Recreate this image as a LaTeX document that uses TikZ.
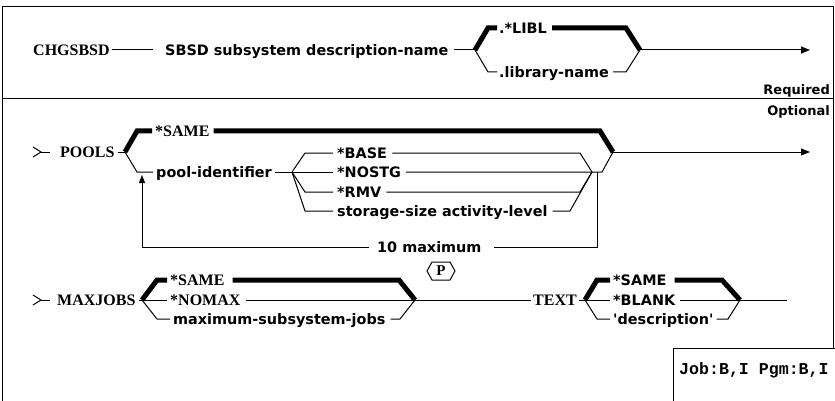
\documentclass[tikz,border=0pt]{standalone}
\usepackage{fontspec}
\setmainfont{Liberation Serif}
\newfontfamily\parmfont{DejaVu Sans}
\newfontfamily\authfont{Liberation Mono}
\usetikzlibrary{arrows.meta, positioning}

\tikzset{
  kw/.style={font=\fontsize{16}{18}\selectfont\bfseries, inner sep=0pt,
    text height=10.5pt, text depth=0pt, anchor=west},
  parm/.style={font=\parmfont\bfseries\fontsize{14.4}{16}\selectfont, inner sep=0pt,
    text height=10.5pt, text depth=0pt, anchor=west},
  rail/.style={line width=1pt},
  mainrail/.style={line width=5pt, line join=miter},
  railend/.style={rail, -{Triangle[length=9pt,width=7pt]}},
}

\begin{document}
\begin{tikzpicture}[x=1pt, y=-1pt]
  \useasboundingbox (0,0) rectangle (835,401);
  % rahmen
  \draw[rail] (2,401) -- (2,7) -- (833,7) -- (833,348);
  \draw[rail] (2,99) -- (833,99);
  \node[parm, anchor=east, font=\parmfont\bfseries\fontsize{13}{15}\selectfont] (req) at (830,89) {Required};
  \node[parm, anchor=east, font=\parmfont\bfseries\fontsize{13}{15}\selectfont] (opt) at (830,110) {Optional};
  % berechtigung
  \draw[rail] (673,401) -- (673,348) -- (835,348);
  \node[anchor=west, inner sep=0pt, font=\authfont\bfseries\fontsize{16.6}{18}\selectfont] (auth) at (679,370) {Job:B,I Pgm:B,I};

  % CHGSBSD
  \node[kw] (cmd) at (33,50) {CHGSBSD};
  \node[parm] (sbsd) at (165,50) {SBSD subsystem description-name};
  \draw[rail] ([xshift=2pt]cmd.east) -- ([xshift=-12pt]sbsd.west);
  \coordinate (r1open) at (475,50);
  \coordinate (r1close) at (640,50);
  \coordinate (r1end) at (810,50);
  \node[parm] (libl) at (499,28) {.*LIBL};
  \node[parm] (libname) at (499,72) {.library-name};
  \draw[rail] ([xshift=5pt]sbsd.east) -- (r1open);
  \draw[mainrail] (r1open) -- (488,28) -- ([xshift=-2pt]libl.west);
  \draw[mainrail] ([xshift=5pt]libl.east) -- (626,28) -- (r1close);
  \draw[rail] (r1open) -- (488,72) -- ([xshift=-2pt]libname.west);
  \draw[rail] ([xshift=4pt]libname.east) -- (626,72) -- (r1close);
  \draw[railend] (r1close) -- (r1end);

  % POOLS
  \draw[rail] (33,147) -- (41,152) -- (33,157);
  \draw[rail] (41,152) -- (50,152);
  \node[kw] (pools) at (60,152) {POOLS};
  \coordinate (r2open) at (125,152);
  \coordinate (r2close) at (613,152);
  \coordinate (r2end) at (810,152);
  \draw[rail] ([xshift=3pt]pools.east) -- (r2open);
  \node[kw] (same2) at (155,131) {*SAME};
  \draw[mainrail] (r2open) -- (137,131) -- ([xshift=-3pt]same2.west);
  \draw[mainrail] ([xshift=4pt]same2.east) -- (600,131) -- (r2close);
  \node[parm] (poolid) at (156,172) {pool-identifier};
  \draw[rail] (r2open) -- (137,172) -- ([xshift=-3pt]poolid.west);
  \coordinate (subopen) at (292,172);
  \coordinate (subclose) at (592,172);
  \draw[rail] ([xshift=3pt]poolid.east) -- (subopen);
  \node[parm] (base) at (337,153) {*BASE};
  \node[parm] (nostg) at (337,172) {*NOSTG};
  \node[parm] (rmv) at (337,192) {*RMV};
  \node[parm] (stor) at (337,211) {storage-size activity-level};
  \draw[rail] (subopen) -- (305,153) -- ([xshift=-4pt]base.west);
  \draw[rail] (subopen) -- ([xshift=-4pt]nostg.west);
  \draw[rail] (subopen) -- (305,192) -- ([xshift=-4pt]rmv.west);
  \draw[rail] (subopen) -- (305,211) -- ([xshift=-4pt]stor.west);
  \draw[rail] ([xshift=5pt]base.east) -- (580,153) -- (subclose);
  \draw[rail] ([xshift=5pt]nostg.east) -- (602,172) -- (r2close);
  \draw[rail] ([xshift=5pt]rmv.east) -- (580,192) -- (subclose);
  \draw[rail] ([xshift=5pt]stor.east) -- (570,211) -- (subclose);
  \draw[railend] (r2close) -- (r2end);
  % wiederholung
  \node[parm] (maxrep) at (377,247) {10 maximum};
  \coordinate (loopr) at (597,172);
  \draw[rail] (loopr) |- ([xshift=12pt]maxrep.east);
  \draw[rail, -{Triangle[length=8pt,width=6pt]}] ([xshift=-8pt]maxrep.west) -| (142,175);

  % MAXJOBS
  \draw[rail] (33,295) -- (41,300) -- (33,305);
  \draw[rail] (41,300) -- (50,300);
  \node[kw] (maxjobs) at (57,300) {MAXJOBS};
  \coordinate (r3open) at (142,300);
  \coordinate (r3close) at (415,300);
  \draw[rail] ([xshift=3pt]maxjobs.east) -- (r3open);
  \node[kw] (same3) at (170,280) {*SAME};
  \node[kw] (nomax) at (170,300) {*NOMAX};
  \node[parm] (maxsub) at (173,319) {maximum-subsystem-jobs};
  \draw[mainrail] (r3open) -- (157,280) -- ([xshift=-3pt]same3.west);
  \draw[mainrail] ([xshift=8pt]same3.east) -- (399,280) -- (r3close);
  \draw[rail] (r3open) -- ([xshift=-3pt]nomax.west);
  \draw[rail] ([xshift=5pt]nomax.east) -- (r3close);
  \draw[rail] (r3open) -- (157,319) -- ([xshift=-3pt]maxsub.west);
  \draw[rail] ([xshift=5pt]maxsub.east) -- (400,319) -- (r3close);
  % parameter-hinweis
  \node[inner sep=0pt, font=\fontsize{15}{17}\selectfont\bfseries] (pnote) at (441,271) {P};
  \draw[rail] (pnote.center) ++(-14,0) -- ++(5,-9) -- ++(18,0) -- ++(5,9)
    -- ++(-5,9) -- ++(-18,0) -- cycle;

  % TEXT
  \node[kw] (textkw) at (533,300) {TEXT};
  \draw[rail] (r3close) -- ([xshift=-2pt]textkw.west);
  \coordinate (r4open) at (585,300);
  \coordinate (r4close) at (740,300);
  \coordinate (r4end) at (787,300);
  \draw[rail] ([xshift=2pt]textkw.east) -- (r4open);
  \node[parm] (same4) at (613,280) {*SAME};
  \node[parm] (blank) at (613,300) {*BLANK};
  \node[parm] (descr) at (613,319) {'description'};
  \draw[mainrail] (r4open) -- (597,280) -- ([xshift=-3pt]same4.west);
  \draw[mainrail] ([xshift=8pt]same4.east) -- (722,280) -- (r4close);
  \draw[rail] (r4open) -- ([xshift=-3pt]blank.west);
  \draw[rail] ([xshift=5pt]blank.east) -- (r4close);
  \draw[rail] (r4open) -- (597,319) -- ([xshift=-3pt]descr.west);
  \draw[rail] ([xshift=3pt]descr.east) -- (728,319) -- (r4close);
  \draw[rail] (r4close) -- (r4end);
\end{tikzpicture}
\end{document}
